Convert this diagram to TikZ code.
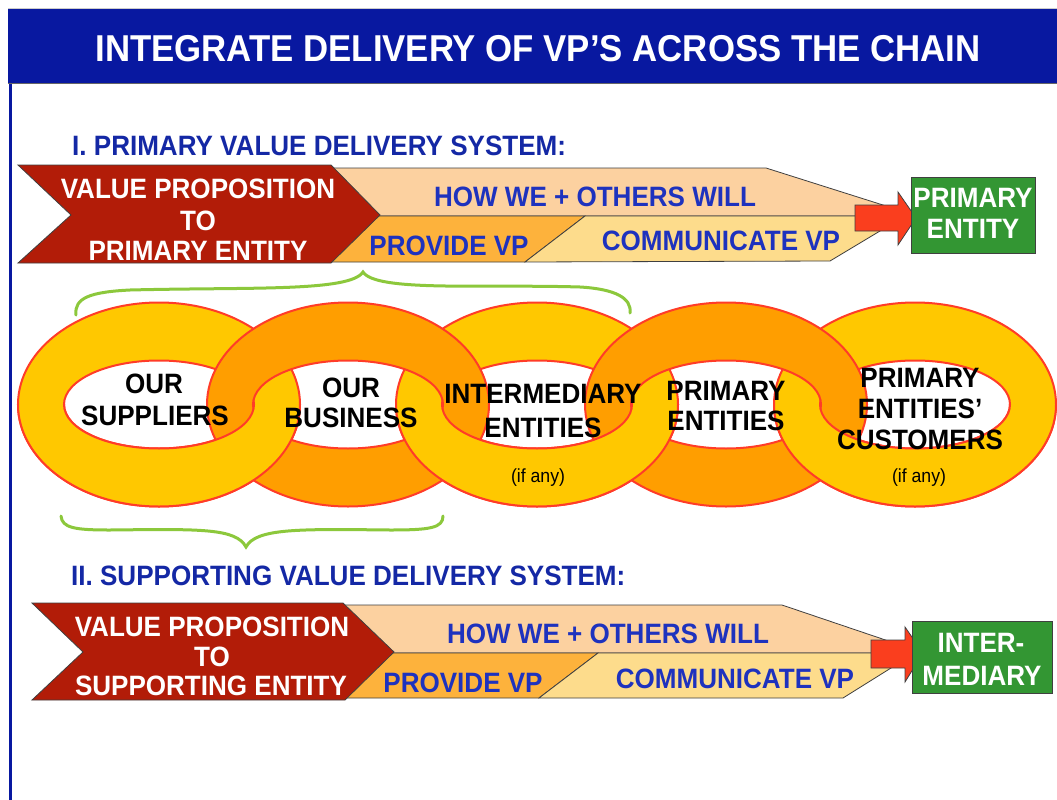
\documentclass[tikz,border=0pt]{standalone}
\usepackage{fontspec}
\setmainfont{Liberation Sans}[FakeStretch=0.93]
\definecolor{titleblue}{RGB}{8,24,160}
\definecolor{headblue}{RGB}{20,40,165}
\definecolor{textblue}{RGB}{30,50,190}
\definecolor{chevred}{RGB}{178,28,8}
\definecolor{peach}{RGB}{252,209,160}
\definecolor{orangeb}{RGB}{253,178,60}
\definecolor{lightyel}{RGB}{253,220,140}
\definecolor{boxgreen}{RGB}{51,150,51}
\definecolor{arrowred}{RGB}{250,62,30}
\definecolor{ringyellow}{RGB}{255,200,0}
\definecolor{ringorange}{RGB}{255,158,0}
\definecolor{ringred}{RGB}{255,60,40}
\definecolor{bracegreen}{RGB}{140,200,60}
\begin{document}
\begin{tikzpicture}[x=1pt,y=-1pt,
  band/.style={draw=black!75, line width=0.8pt},
  lbl/.style={anchor=base, inner sep=0pt, font=\bfseries\fontsize{28}{31}\selectfont},
  bluelbl/.style={lbl, text=textblue},
  whitelbl/.style={lbl, text=white},
  blacklbl/.style={lbl, text=black},
  headlbl/.style={lbl, anchor=base west, text=headblue},
  smalllbl/.style={anchor=base, inner sep=0pt, font=\fontsize{19}{22}\selectfont, text=black},
  ring/.style={draw=ringred, line width=2pt, even odd rule},
  brace/.style={draw=bracegreen, line width=3pt, line cap=round}]
\useasboundingbox (0,0) rectangle (1057,800);
\fill[white] (0,0) rectangle (1057,800);
% title bar
\fill[titleblue] (8,9) rectangle (1057,83);
\draw[black!60, line width=1pt] (8,83.5) -- (1057,83.5);
\draw[black!20, line width=0.6pt] (8,8.7) -- (1057,8.7);
\fill[titleblue] (9,84) rectangle (12,800);
\node[anchor=base, inner sep=0pt, text=white, font=\bfseries\fontsize{37.4}{40}\selectfont] (title) at (538,62) {INTEGRATE DELIVERY OF VP’S ACROSS THE CHAIN};
% section headings
\node[headlbl] (head1) at (72,155) {I. PRIMARY VALUE DELIVERY SYSTEM:};
\node[headlbl] (head2) at (71,585) {II. SUPPORTING VALUE DELIVERY SYSTEM:};
% ---------- row 1 ----------
\filldraw[band, fill=peach] (320,168) -- (766,168) -- (905,212) -- (905,216) -- (370,216) -- cycle;
\filldraw[band, fill=orangeb] (370,216) -- (585,216) -- (525,262) -- (320,262) -- cycle;
\filldraw[band, fill=lightyel] (585,216) -- (905,216) -- (830,261) -- (525,262) -- cycle;
\filldraw[band, fill=chevred] (18,165) -- (331,165) -- (380,215) -- (331,263) -- (18,263) -- (71,215) -- cycle;
\filldraw[band, fill=arrowred] (855,205) -- (898,205) -- (898,192) -- (916,218) -- (898,245) -- (898,231) -- (855,231) -- cycle;
\filldraw[band, fill=boxgreen] (911,177) rectangle (1035,253);
\node[whitelbl] (r1a) at (198,198) {VALUE PROPOSITION};
\node[whitelbl] (r1b) at (198,230) {TO};
\node[whitelbl] (r1c) at (198,260) {PRIMARY ENTITY};
\node[bluelbl] (r1how) at (595,206) {HOW WE + OTHERS WILL};
\node[bluelbl] (r1prov) at (449,255) {PROVIDE VP};
\node[bluelbl] (r1comm) at (721,250) {COMMUNICATE VP};
\node[whitelbl] (r1g1) at (973,207) {PRIMARY};
\node[whitelbl] (r1g2) at (973,238) {ENTITY};
% ---------- braces ----------
\draw[brace] (76,315) .. controls (74,298) and (90,292) .. (130,290) .. controls (250,287) and (350,292) .. (363,272) .. controls (376,292) and (480,284) .. (580,287) .. controls (615,289) and (632,298) .. (630,313);
\draw[brace] (61,516) .. controls (62,528) and (75,530) .. (110,530) .. controls (200,529) and (236,528) .. (246,547) .. controls (256,528) and (300,529) .. (390,530) .. controls (430,530) and (443,528) .. (443,516);
% ---------- chain ----------
\foreach \cx in {159,537,915}
  \filldraw[ring, fill=ringyellow] (\cx,404.5) ellipse [x radius=141pt, y radius=102pt] (\cx,404.5) ellipse [x radius=95pt, y radius=44pt];
\foreach \cx in {348,726}
  \filldraw[ring, fill=ringorange] (\cx,404.5) ellipse [x radius=141pt, y radius=102pt] (\cx,404.5) ellipse [x radius=95pt, y radius=44pt];
\begin{scope}
  \clip (0,404.5) rectangle (1057,520);
  \foreach \cx in {159,537,915}
    \filldraw[ring, fill=ringyellow] (\cx,404.5) ellipse [x radius=141pt, y radius=102pt] (\cx,404.5) ellipse [x radius=95pt, y radius=44pt];
\end{scope}
\node[blacklbl] (c1a) at (154,393) {OUR};
\node[blacklbl] (c1b) at (155,425) {SUPPLIERS};
\node[blacklbl] (c2a) at (351,397) {OUR};
\node[blacklbl] (c2b) at (351,427) {BUSINESS};
\node[blacklbl] (c3a) at (543,403) {INTERMEDIARY};
\node[blacklbl] (c3b) at (543,437) {ENTITIES};
\node[smalllbl] (c3c) at (538,482) {(if any)};
\node[blacklbl] (c4a) at (726,400) {PRIMARY};
\node[blacklbl] (c4b) at (726,430) {ENTITIES};
\node[blacklbl] (c5a) at (920,387) {PRIMARY};
\node[blacklbl] (c5b) at (920,418) {ENTITIES’};
\node[blacklbl] (c5c) at (920,449) {CUSTOMERS};
\node[smalllbl] (c5d) at (919,482) {(if any)};
% ---------- row 2 ----------
\filldraw[band, fill=peach] (335,605) -- (782,605) -- (915,650) -- (915,653) -- (385,653) -- cycle;
\filldraw[band, fill=orangeb] (385,653) -- (598,653) -- (539,698) -- (335,698) -- cycle;
\filldraw[band, fill=lightyel] (598,653) -- (915,653) -- (843,698) -- (539,698) -- cycle;
\filldraw[band, fill=chevred] (32,603) -- (343,603) -- (394,652) -- (345,700) -- (32,700) -- (83,652) -- cycle;
\filldraw[band, fill=arrowred] (871,640) -- (905,640) -- (905,627) -- (923,653) -- (905,682) -- (905,668) -- (871,668) -- cycle;
\filldraw[band, fill=boxgreen] (912,621) rectangle (1052,693);
\node[whitelbl] (r2a) at (212,636) {VALUE PROPOSITION};
\node[whitelbl] (r2b) at (212,666) {TO};
\node[whitelbl] (r2c) at (211,695) {SUPPORTING ENTITY};
\node[bluelbl] (r2how) at (608,643) {HOW WE + OTHERS WILL};
\node[bluelbl] (r2prov) at (463,692) {PROVIDE VP};
\node[bluelbl] (r2comm) at (735,688) {COMMUNICATE VP};
\node[whitelbl] (r2g1) at (981,652) {INTER-};
\node[whitelbl] (r2g2) at (982,685) {MEDIARY};
\end{tikzpicture}
\end{document}
